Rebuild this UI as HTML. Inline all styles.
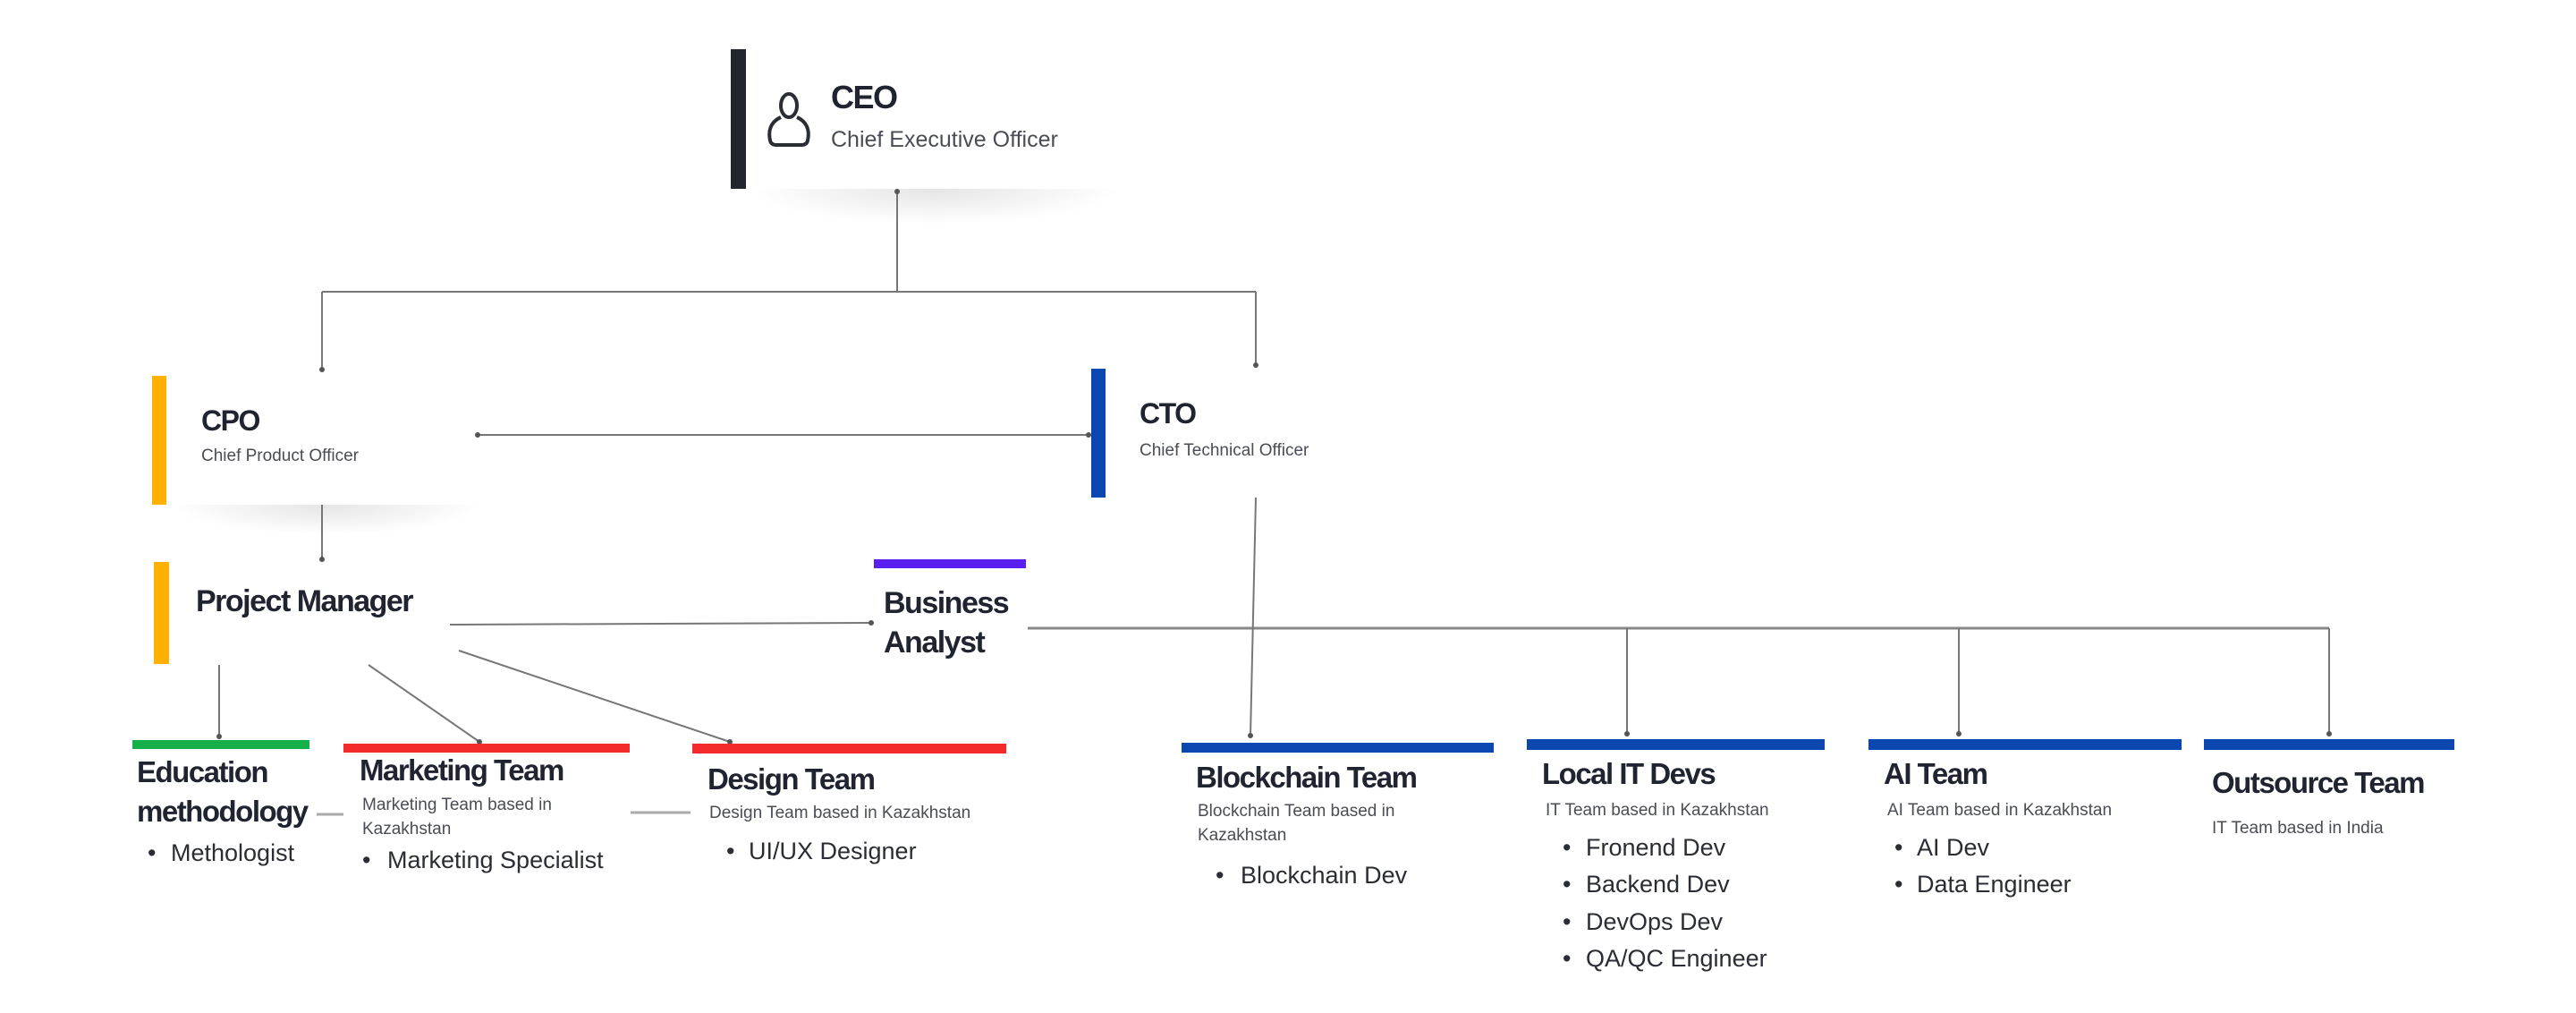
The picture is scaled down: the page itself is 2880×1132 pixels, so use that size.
<!DOCTYPE html>
<html><head><meta charset="utf-8"><style>
html,body{margin:0;padding:0;background:#fff}
#c{position:relative;width:2880px;height:1132px;overflow:hidden;background:#fff;font-family:"Liberation Sans",sans-serif}
.t{position:absolute;white-space:nowrap;line-height:1}
.h{font-weight:bold;color:#1f2430;letter-spacing:-1.5px}
.s{color:#4a4d55;font-size:19px}
.b{color:#2a2d33;font-size:27px}
.bar{position:absolute}
.sh{position:absolute;background:radial-gradient(ellipse at 50% 0%,rgba(0,0,0,0.10),rgba(0,0,0,0) 70%)}
</style></head><body><div id="c">
<div class="sh" style="left:835px;top:211px;width:420px;height:40px"></div>
<div class="sh" style="left:190px;top:564px;width:350px;height:34px"></div>
<svg style="position:absolute;left:0;top:0" width="2880" height="1132">
<g stroke="#777" stroke-width="2" fill="none">
<path d="M1003 214 V326 M360 326 H1404 M360 326 V413 M1404 326 V408"/>
<path d="M534 486 H1218"/>
<path d="M360 564 V625"/>
<path d="M503 698 L974 696"/>
<path d="M245 743 V823 M412 743 L536 829 M513 727 L816 829"/>
<path d="M354 910 H384 M705 908 H772" stroke="#aaa" stroke-width="3"/>
<path d="M1149 702 H2604" stroke="#888" stroke-width="3"/>
<path d="M1404 556 L1398 822 M1819 702 V820 M2190 702 V820 M2604 702 V820"/>
</g>
<g fill="#555">
<circle cx="1003" cy="214" r="3"/><circle cx="360" cy="413" r="3"/><circle cx="1404" cy="408" r="3"/>
<circle cx="534" cy="486" r="3"/><circle cx="1217" cy="486" r="3"/><circle cx="360" cy="625" r="3"/>
<circle cx="974" cy="696" r="3"/><circle cx="245" cy="823" r="3"/><circle cx="536" cy="829" r="3"/><circle cx="816" cy="829" r="3"/>
<circle cx="1398" cy="822" r="3"/><circle cx="1819" cy="820" r="3"/><circle cx="2190" cy="820" r="3"/><circle cx="2604" cy="820" r="3"/>
</g>
<g stroke="#2a2d33" stroke-width="4" fill="none">
<ellipse cx="882" cy="118" rx="9" ry="13"/>
<path d="M873 131 C860 137 859 148 861 157 Q862 162 868 162 H896 Q902 162 903 157 C905 148 904 137 891 131"/>
</g>
</svg>
<div class="bar" style="left:817px;top:55px;width:17px;height:156px;background:#22262e"></div>
<div class="bar" style="left:1220px;top:412px;width:16px;height:144px;background:#0a47b0"></div>
<div class="bar" style="left:170px;top:420px;width:16px;height:144px;background:#ffb000"></div>
<div class="bar" style="left:172px;top:628px;width:17px;height:114px;background:#ffb000"></div>
<div class="bar" style="left:977px;top:625px;width:170px;height:10px;background:#5a1ff0"></div>
<div class="bar" style="left:148px;top:827px;width:198px;height:10px;background:#16b04a"></div>
<div class="bar" style="left:384px;top:831px;width:320px;height:10px;background:#f52a2a"></div>
<div class="bar" style="left:774px;top:831px;width:351px;height:11px;background:#f52a2a"></div>
<div class="bar" style="left:1321px;top:830px;width:349px;height:11px;background:#0a47b0"></div>
<div class="bar" style="left:1707px;top:826px;width:333px;height:12px;background:#0a47b0"></div>
<div class="bar" style="left:2089px;top:826px;width:350px;height:12px;background:#0a47b0"></div>
<div class="bar" style="left:2464px;top:826px;width:280px;height:12px;background:#0a47b0"></div>

<div class="t h" style="left:929px;top:91px;font-size:36px">CEO</div>
<div class="t" style="left:929px;top:144px;font-size:25px;color:#4a4d55">Chief Executive Officer</div>
<div class="t h" style="left:225px;top:454px;font-size:32px">CPO</div>
<div class="t s" style="left:225px;top:500px">Chief Product Officer</div>
<div class="t h" style="left:1274px;top:446px;font-size:32px">CTO</div>
<div class="t s" style="left:1274px;top:494px">Chief Technical Officer</div>
<div class="t h" style="left:219px;top:655px;font-size:34px">Project Manager</div>
<div class="t h" style="left:988px;top:657px;font-size:34px">Business</div>
<div class="t h" style="left:988px;top:701px;font-size:34px">Analyst</div>

<div class="t h" style="left:153px;top:846px;font-size:33px">Education</div>
<div class="t h" style="left:153px;top:890px;font-size:33px">methodology</div>
<div class="t b" style="left:165px;top:940px">•</div><div class="t b" style="left:191px;top:940px">Methologist</div>

<div class="t h" style="left:402px;top:844px;font-size:33px">Marketing Team</div>
<div class="t s" style="left:405px;top:890px">Marketing Team based in</div>
<div class="t s" style="left:405px;top:917px">Kazakhstan</div>
<div class="t b" style="left:405px;top:948px">•</div><div class="t b" style="left:433px;top:948px">Marketing Specialist</div>

<div class="t h" style="left:791px;top:854px;font-size:33px">Design Team</div>
<div class="t s" style="left:793px;top:899px">Design Team based in Kazakhstan</div>
<div class="t b" style="left:812px;top:938px">•</div><div class="t b" style="left:837px;top:938px">UI/UX Designer</div>

<div class="t h" style="left:1337px;top:852px;font-size:33px">Blockchain Team</div>
<div class="t s" style="left:1339px;top:897px">Blockchain Team based in</div>
<div class="t s" style="left:1339px;top:924px">Kazakhstan</div>
<div class="t b" style="left:1359px;top:965px">•</div><div class="t b" style="left:1387px;top:965px">Blockchain Dev</div>

<div class="t h" style="left:1724px;top:848px;font-size:33px">Local IT Devs</div>
<div class="t s" style="left:1728px;top:896px">IT Team based in Kazakhstan</div>
<div class="t b" style="left:1747px;top:934px">•</div><div class="t b" style="left:1773px;top:934px">Fronend Dev</div>
<div class="t b" style="left:1747px;top:975px">•</div><div class="t b" style="left:1773px;top:975px">Backend Dev</div>
<div class="t b" style="left:1747px;top:1017px">•</div><div class="t b" style="left:1773px;top:1017px">DevOps Dev</div>
<div class="t b" style="left:1747px;top:1058px">•</div><div class="t b" style="left:1773px;top:1058px">QA/QC Engineer</div>

<div class="t h" style="left:2106px;top:848px;font-size:33px">AI Team</div>
<div class="t s" style="left:2110px;top:896px">AI Team based in Kazakhstan</div>
<div class="t b" style="left:2118px;top:934px">•</div><div class="t b" style="left:2143px;top:934px">AI Dev</div>
<div class="t b" style="left:2118px;top:975px">•</div><div class="t b" style="left:2143px;top:975px">Data Engineer</div>

<div class="t h" style="left:2473px;top:858px;font-size:33px">Outsource Team</div>
<div class="t s" style="left:2473px;top:916px">IT Team based in India</div>
</div></body></html>
